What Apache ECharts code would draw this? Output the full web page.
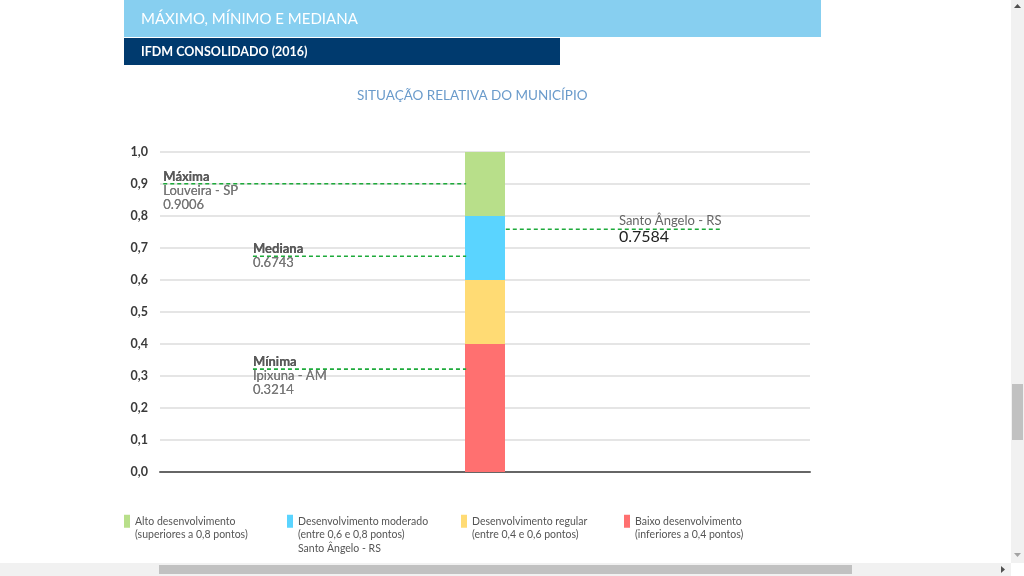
<!DOCTYPE html>
<html><head><meta charset="utf-8">
<script src="https://cdn.jsdelivr.net/npm/echarts@6/dist/echarts.min.js"></script>
<style>html,body{margin:0;padding:0;background:#fff;overflow:hidden}#c{width:1024px;height:576px}</style>
</head><body><div id="c"></div>
<script>
// ---- data ----
const category = ['Santo Ângelo - RS'];
const bandNames = ['Baixo desenvolvimento', 'Desenvolvimento regular', 'Desenvolvimento moderado', 'Alto desenvolvimento'];
const bandNotes = ['(inferiores a 0,4 pontos)', '(entre 0,4 e 0,6 pontos)', '(entre 0,6 e 0,8 pontos)', '(superiores a 0,8 pontos)'];
const bandLower = [0, 0.4, 0.6, 0.8];
const bandUpper = [0.4, 0.6, 0.8, 1.0];
const refNames = ['Máxima', 'Mediana', 'Mínima', 'Santo Ângelo - RS'];
const refPlaces = ['Louveira - SP', '', 'Ipixuna - AM', ''];
const refValues = [0.9006, 0.6743, 0.3214, 0.7584];
const yTicks = ['0,0','0,1','0,2','0,3','0,4','0,5','0,6','0,7','0,8','0,9','1,0'];

// ---- layout / style (not data) ----
const bandColors = ['#FF7070', '#FFDB74', '#5AD4FF', '#B8DF8A'];
const refExtent = [[0.005, 0.471], [0.143, 0.471], [0.143, 0.471], [0.532, 0.865]];
const refLabelAt = [0.005, 0.143, 0.143, 0.706];
const refLabelOffset = [7, 0, 7, 0];
const legendOrder = [3, 2, 1, 0];
const legendLeft = [124, 287, 461, 624];
const FONT = 'Lato';

const barSeries = bandNames.map((n, i) => ({
  type: 'bar', name: n, stack: 'ifdm', barWidth: 40,
  xAxisIndex: 0, yAxisIndex: 0,
  itemStyle: { color: bandColors[i] },
  emphasis: { disabled: true },
  data: [+(bandUpper[i] - bandLower[i]).toFixed(4)]
}));

const lineSeries = refNames.map((n, i) => {
  const isCity = i === 3;
  const text = isCity
    ? '{c|' + n + '}\n{v|' + refValues[i].toFixed(4) + '}'
    : '{t|' + n + '}' + (refPlaces[i] ? '\n{s|' + refPlaces[i] + '}' : '') + '\n{s|' + refValues[i].toFixed(4) + '}';
  const pts = [refExtent[i][0], refLabelAt[i], refExtent[i][1]].sort((a, b) => a - b);
  return {
    type: 'line', name: n, xAxisIndex: 1, yAxisIndex: 0,
    symbol: 'circle', symbolSize: 0.1, showSymbol: true,
    itemStyle: { color: 'rgba(0,0,0,0)' },
    lineStyle: { color: '#1DAA3A', width: 1.6, type: [4, 3] },
    emphasis: { disabled: true },
    silent: true, z: 5,
    data: pts.map(x => x === refLabelAt[i] ? {
      value: [x, refValues[i]],
      label: {
        show: true, position: 'right', distance: 0, offset: [0, refLabelOffset[i]],
        align: 'left', verticalAlign: 'middle',
        formatter: () => text,
        rich: {
          t: { fontFamily: FONT, fontSize: 13, color: '#5a5a5a', fontWeight: 'bold', lineHeight: 14 },
          s: { fontFamily: FONT, fontSize: 13, color: '#777', lineHeight: 14 },
          c: { fontFamily: FONT, fontSize: 13, color: '#666', lineHeight: 15 },
          v: { fontFamily: FONT, fontSize: 16, color: '#222', lineHeight: 16 }
        }
      }
    } : { value: [x, refValues[i]] })
  };
});

const legends = legendOrder.map((bi, k) => {
  const real = [bandNames[bi], bandNotes[bi]].concat(bi === 2 ? [category[0]] : []);
  // blank lines on top keep the first real line level with the icon
  const lines = real.map(() => '').slice(1).concat(real).join('\n');
  return {
    data: [bandNames[bi]], left: legendLeft[k], top: real.length === 3 ? 487.5 : 501,
    padding: 0,
    orient: 'horizontal', icon: 'rect', itemWidth: 6, itemHeight: 13, itemGap: 0,
    selectedMode: false,
    formatter: () => lines,
    textStyle: { fontFamily: FONT, fontSize: 10.5, color: '#555', lineHeight: 13.5 }
  };
});

const chart = echarts.init(document.getElementById('c'));
chart.setOption({
  animation: false,
  backgroundColor: '#fff',
  textStyle: { fontFamily: FONT },
  title: {
    text: 'SITUAÇÃO RELATIVA DO MUNICÍPIO', left: 352, top: 84,
    textStyle: { fontFamily: FONT, fontSize: 13.5, color: '#6A9BCB', fontWeight: 'normal' }
  },
  legend: legends,
  grid: { left: 160, right: 214, top: 152, bottom: 104 },
  xAxis: [
    { type: 'category', data: category, axisLabel: { show: false }, axisTick: { show: false },
      axisLine: { show: true, lineStyle: { color: '#666', width: 2 } } },
    { type: 'value', min: 0, max: 1, show: false }
  ],
  yAxis: [{
    type: 'value', min: 0, max: 1, interval: 0.1,
    axisLine: { show: false }, axisTick: { show: false },
    axisLabel: { margin: 12, color: '#3a3a3a', fontSize: 12.5, fontWeight: 'bold', fontFamily: FONT,
      formatter: (v) => yTicks[Math.round(v * 10)] },
    splitLine: { lineStyle: { color: '#DDDDDD', width: 1.5 } }
  }],
  series: barSeries.concat(lineSeries),
  graphic: [
    { type: 'rect', shape: { x: 124, y: 0, width: 697, height: 37 }, style: { fill: '#87CFF0' }, silent: true },
    { type: 'text', x: 141, y: 19, style: { text: 'MÁXIMO, MÍNIMO E MEDIANA', fill: '#fff', font: '15px Lato', verticalAlign: 'middle' }, silent: true },
    { type: 'rect', shape: { x: 124, y: 38, width: 436, height: 27 }, style: { fill: '#003A6E' }, silent: true },
    { type: 'text', x: 141, y: 52, style: { text: 'IFDM CONSOLIDADO (2016)', fill: '#fff', font: 'bold 12.5px Lato', verticalAlign: 'middle' }, silent: true },
    // browser scrollbars
    { type: 'rect', shape: { x: 1011, y: 0, width: 13, height: 563 }, style: { fill: '#F1F1F1' }, silent: true },
    { type: 'rect', shape: { x: 1012, y: 384, width: 11, height: 56 }, style: { fill: '#C1C1C1' }, silent: true },
    { type: 'polygon', shape: { points: [[1014, 8], [1021, 8], [1017.5, 4]] }, style: { fill: '#505050' }, silent: true },
    { type: 'polygon', shape: { points: [[1014, 553], [1021, 553], [1017.5, 557]] }, style: { fill: '#A3A3A3' }, silent: true },
    { type: 'rect', shape: { x: 0, y: 563, width: 1011, height: 13 }, style: { fill: '#F1F1F1' }, silent: true },
    { type: 'rect', shape: { x: 159, y: 565, width: 693, height: 9 }, style: { fill: '#C1C1C1' }, silent: true },
    { type: 'polygon', shape: { points: [[1001, 566], [1001, 573], [1005, 569.5]] }, style: { fill: '#505050' }, silent: true },
    { type: 'rect', shape: { x: 1011, y: 563, width: 13, height: 13 }, style: { fill: '#fff' }, silent: true }
  ]
});
</script></body></html>
